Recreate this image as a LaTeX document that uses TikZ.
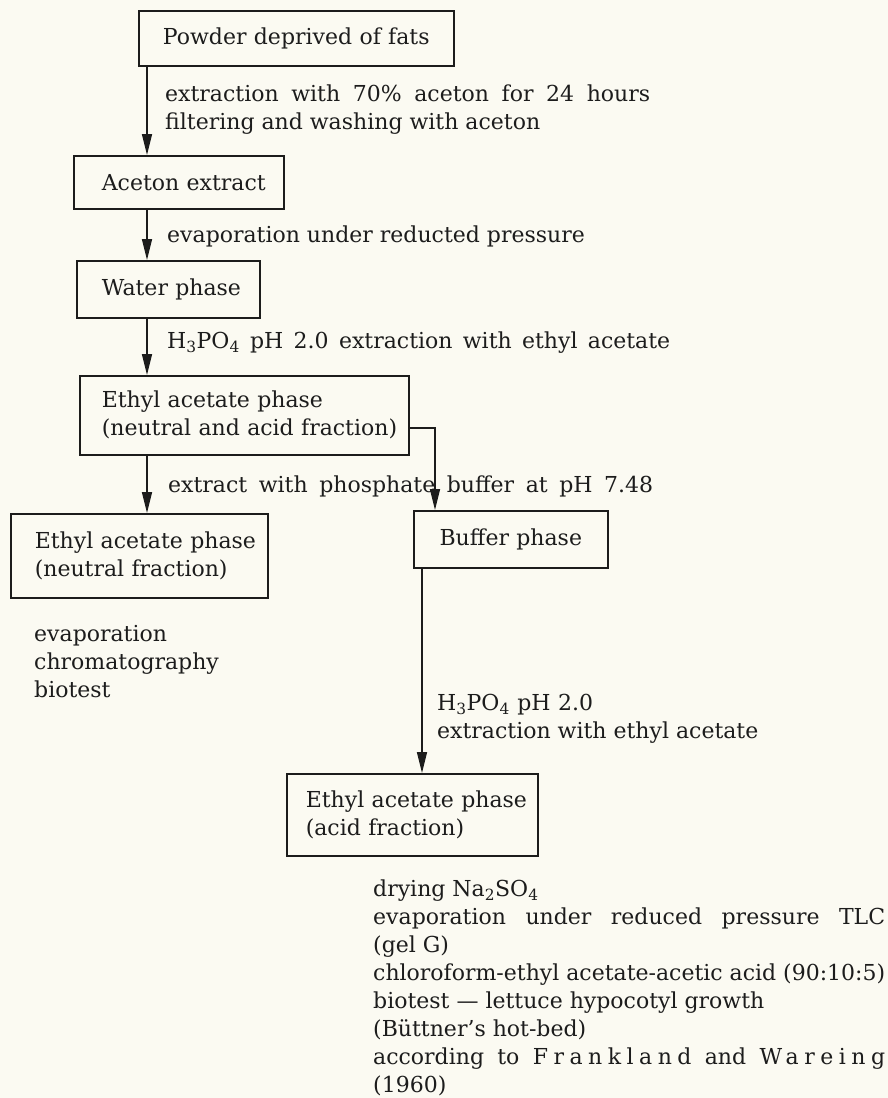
\documentclass[tikz,border=0pt]{standalone}
\usepackage{fontspec}
\setmainfont{DejaVu Serif}
\usetikzlibrary{arrows.meta}
\definecolor{paper}{RGB}{251,250,242}
\definecolor{ink}{RGB}{28,28,28}
\newcommand{\mainfs}{\fontsize{22}{28}\selectfont}
\newcommand{\ind}[1]{\hspace*{#1pt}}
\newcommand{\spreadto}[2]{\makebox[#1pt][s]{#2}}
\newcommand{\spc}[1]{{\addfontfeature{LetterSpace=25}#1}}
\begin{document}
\begin{tikzpicture}[x=1pt,y=-1pt,
  every node/.style={text=ink, font=\mainfs},
  box/.style={draw=ink, line width=1.6pt, inner sep=0pt, anchor=north west},
  lbl/.style={inner sep=0pt, anchor=base west, align=left},
  arr/.style={draw=ink, line width=1.5pt, -{Triangle[length=21pt,width=10pt]}}]
\fill[paper] (0,0) rectangle (888,1098);
\useasboundingbox (0,0) rectangle (888,1098);

% boxes
\node[box, minimum width=315pt, minimum height=55pt, text width=315pt, align=center] (b1) at (138,10) {Powder deprived of fats};
\node[box, minimum width=210pt, minimum height=53pt, text width=210pt, align=left] (b2) at (73,155) {\ind{28}Aceton extract};
\node[box, minimum width=183pt, minimum height=57pt, text width=183pt, align=left] (b3) at (76,260) {\ind{25}Water phase};
\node[box, minimum width=329pt, minimum height=79pt, text width=329pt, align=left] (b4) at (79,375) {\ind{22}Ethyl acetate phase\\\ind{22}(neutral and acid fraction)};
\node[box, minimum width=194pt, minimum height=57pt, text width=194pt, align=center] (b5) at (413,510) {Buffer phase};
\node[box, minimum width=257pt, minimum height=84pt, text width=257pt, align=left] (b6) at (10,513) {\ind{24}Ethyl acetate phase\\\ind{24}(neutral fraction)};
\node[box, minimum width=251pt, minimum height=82pt, text width=251pt, align=left] (b7) at (286,773) {\ind{19}Ethyl acetate phase\\\ind{19}(acid fraction)};

% labels (anchor = baseline of the last line)
\node[lbl] (l1) at (165,129) {\spreadto{485}{extraction with 70\% aceton for 24 hours}\\filtering and washing with aceton};
\node[lbl] (l2) at (167,242) {evaporation under reducted pressure};
\node[lbl] (l3) at (167,348) {\spreadto{503}{H\textsubscript{3}PO\textsubscript{4} pH 2.0 extraction with ethyl acetate}};
\node[lbl] (l4) at (168,492) {\spreadto{485}{extract with phosphate buffer at pH 7.48}};
\node[lbl] (l5) at (34,697) {evaporation\\chromatography\\biotest};
\node[lbl] (l6) at (437,738) {\spreadto{156}{H\textsubscript{3}PO\textsubscript{4} pH 2.0}\\extraction with ethyl acetate};
\node[lbl] (l7) at (373,1092) {drying Na\textsubscript{2}SO\textsubscript{4}\\
  \spreadto{512}{evaporation under reduced pressure TLC}\\
  (gel G)\\
  \spreadto{512}{chloroform-ethyl acetate-acetic acid (90:10:5)}\\
  biotest — lettuce hypocotyl growth\\
  (Büttner’s hot-bed)\\
  \spreadto{512}{according to \spc{Frankland} and \spc{Wareing}}\\
  (1960)};

% connectors
\coordinate (sp) at (147,0);
\coordinate (a5) at ([xshift=9pt]b5.south west);
\coordinate (br) at ([yshift=-12.5pt]b4.east);
\coordinate (bt) at ([xshift=22pt]b5.north west);
\draw[arr] (sp |- b1.south) -- (sp |- b2.north);
\draw[arr] (sp |- b2.south) -- (sp |- b3.north);
\draw[arr] (sp |- b3.south) -- (sp |- b4.north);
\draw[arr] (sp |- b4.south) -- (sp |- b6.north);
\draw[arr] (br) -| (bt);
\draw[arr] (a5) -- (a5 |- b7.north);
\end{tikzpicture}
\end{document}
